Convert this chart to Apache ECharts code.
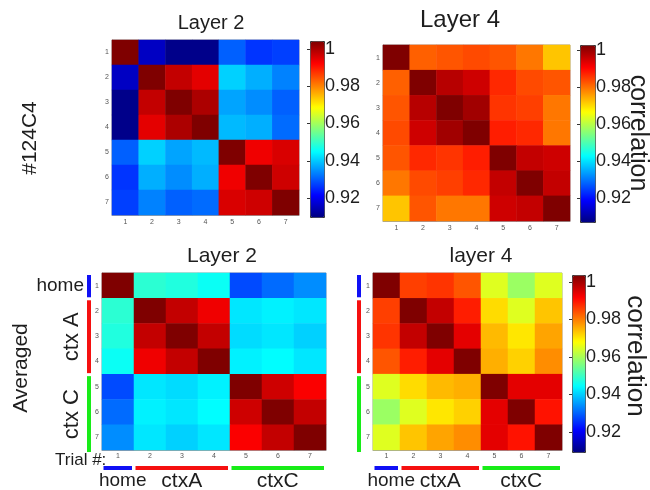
<!DOCTYPE html>
<html><head><meta charset="utf-8">
<script src="https://cdn.jsdelivr.net/npm/echarts@6/dist/echarts.min.js"></script>
<style>html,body{margin:0;padding:0;background:#fff}#c{width:650px;height:490px}</style>
</head><body><div id="c"></div>
<script>
// ---------------- data ----------------
const trials = ['1', '2', '3', '4', '5', '6', '7'];

// #124C4, Layer 2 (rows = trial 1..7 top to bottom)
const layer2Single = [
  [1.000, 0.915, 0.910, 0.910, 0.929, 0.925, 0.926],
  [0.915, 1.000, 0.994, 0.991, 0.939, 0.936, 0.932],
  [0.910, 0.994, 1.000, 0.996, 0.935, 0.933, 0.929],
  [0.910, 0.991, 0.996, 1.000, 0.937, 0.936, 0.930],
  [0.929, 0.939, 0.935, 0.937, 1.000, 0.990, 0.992],
  [0.925, 0.936, 0.933, 0.936, 0.990, 1.000, 0.993],
  [0.926, 0.932, 0.929, 0.930, 0.992, 0.993, 1.000]
];
// #124C4, Layer 4
const layer4Single = [
  [1.000, 0.980, 0.981, 0.982, 0.981, 0.978, 0.971],
  [0.980, 1.000, 0.995, 0.993, 0.985, 0.982, 0.981],
  [0.981, 0.995, 1.000, 0.997, 0.984, 0.983, 0.978],
  [0.982, 0.993, 0.997, 1.000, 0.986, 0.985, 0.978],
  [0.981, 0.985, 0.984, 0.986, 1.000, 0.994, 0.993],
  [0.978, 0.982, 0.983, 0.985, 0.994, 1.000, 0.994],
  [0.971, 0.981, 0.978, 0.978, 0.993, 0.994, 1.000]
];
// Averaged, Layer 2
const layer2Avg = [
  [1.000, 0.947, 0.946, 0.944, 0.927, 0.930, 0.933],
  [0.947, 1.000, 0.994, 0.990, 0.941, 0.942, 0.941],
  [0.946, 0.994, 1.000, 0.994, 0.940, 0.941, 0.939],
  [0.944, 0.990, 0.994, 1.000, 0.942, 0.943, 0.941],
  [0.927, 0.941, 0.940, 0.942, 1.000, 0.993, 0.989],
  [0.930, 0.942, 0.941, 0.943, 0.993, 1.000, 0.994],
  [0.933, 0.941, 0.939, 0.941, 0.989, 0.994, 1.000]
];
// Averaged, layer 4
const layer4Avg = [
  [1.000, 0.983, 0.984, 0.981, 0.963, 0.957, 0.963],
  [0.983, 1.000, 0.994, 0.986, 0.969, 0.963, 0.971],
  [0.984, 0.994, 1.000, 0.991, 0.972, 0.968, 0.974],
  [0.981, 0.986, 0.991, 1.000, 0.973, 0.970, 0.976],
  [0.963, 0.969, 0.972, 0.973, 1.000, 0.991, 0.991],
  [0.957, 0.963, 0.968, 0.970, 0.991, 1.000, 0.987],
  [0.963, 0.971, 0.974, 0.976, 0.991, 0.987, 1.000]
];

const colorbarMin = 0.92, colorbarMax = 1.00, colorbarStep = 0.02;
const colorMin = 0.909, colorMax = 1.0;

const groupNames = ['home', 'ctxA', 'ctxC'];
const groupSideNames = ['home', 'ctx A', 'ctx C'];
const groupStart = [0, 1, 4];
const groupEnd = [1, 4, 7];

// ---------------- style / layout ----------------
const FONT = '"Liberation Sans", Arial, Helvetica, sans-serif';
const TXT = '#1e1e1e';
const groupColors = ['#1010f5', '#f51010', '#18ec18'];
const jet = ['#00007f', '#0000ff', '#007fff', '#00ffff', '#7fff7f', '#ffff00', '#ff7f00', '#ff0000', '#7f0000'];

const panels = [
  { mat: layer2Single, left: 112, top: 40, width: 187, height: 175, ym: 3, xm: 4 },
  { mat: layer4Single, left: 383, top: 45, width: 187, height: 176, ym: 3, xm: 4 },
  { mat: layer2Avg,    left: 102, top: 273, width: 224, height: 177, ym: 3, xm: 3 },
  { mat: layer4Avg,    left: 373, top: 273, width: 189, height: 177, ym: 3, xm: 3 }
];
const colorbars = [
  { left: 310, top: 41, w: 14, h: 176, labTop: 49, labBottom: 198, font: 18, series: [0, 2] },
  { left: 580, top: 45, w: 15, h: 177, labTop: 50, labBottom: 198, font: 18, series: [1] },
  { left: 572, top: 275, w: 13, h: 177, labTop: 282, labBottom: 432, font: 18, series: [3] }
];

const grid = [], xAxis = [], yAxis = [], series = [], visualMap = [];

panels.forEach((p, i) => {
  grid.push({ left: p.left, top: p.top, width: p.width, height: p.height, show: true,
              borderColor: '#a0a0a0', borderWidth: 1, backgroundColor: 'transparent', containLabel: false });
  xAxis.push({ type: 'category', gridIndex: i, data: trials, position: 'bottom',
               axisLine: { show: true, lineStyle: { color: '#a0a0a0' } },
               axisTick: { show: true, inside: true, length: 2, alignWithLabel: true, lineStyle: { color: '#666' } },
               axisLabel: { fontSize: 7, color: '#555', margin: p.xm, fontFamily: FONT },
               splitLine: { show: false } });
  yAxis.push({ type: 'category', gridIndex: i, data: trials, inverse: true,
               axisLine: { show: true, lineStyle: { color: '#a0a0a0' } },
               axisTick: { show: true, inside: true, length: 2, alignWithLabel: true, lineStyle: { color: '#666' } },
               axisLabel: { fontSize: 7, color: '#555', margin: p.ym, fontFamily: FONT },
               splitLine: { show: false } });
  const data = [];
  p.mat.forEach((row, r) => row.forEach((v, c) => data.push([c, r, v])));
  series.push({ type: 'heatmap', xAxisIndex: i, yAxisIndex: i, data: data,
                itemStyle: { borderWidth: 0 }, emphasis: { disabled: true }, silent: true, progressive: 0 });
});

colorbars.forEach((cb, k) => {
  visualMap.push({ type: 'continuous', min: colorMin, max: colorMax, seriesIndex: cb.series,
                   left: cb.left, top: cb.top, itemWidth: cb.w, itemHeight: cb.h, padding: 0,
                   calculable: false, hoverLink: false, inRange: { color: jet },
                   borderColor: '#333', borderWidth: 1, textStyle: { fontSize: 0 } });
  const gi = grid.length;
  grid.push({ left: cb.left, top: cb.labTop, width: cb.w, height: cb.labBottom - cb.labTop, show: false });
  xAxis.push({ type: 'value', gridIndex: gi, show: false, min: 0, max: 1 });
  yAxis.push({ type: 'value', gridIndex: gi, position: 'right', min: colorbarMin, max: colorbarMax,
               interval: colorbarStep,
               axisLine: { show: false },
               axisTick: { show: true, inside: true, length: 3, lineStyle: { color: '#333' } },
               splitLine: { show: false },
               axisLabel: { fontSize: cb.font, color: TXT, margin: 1, fontFamily: FONT,
                            formatter: v => Math.abs(v - 1) < 1e-9 ? '1' : v.toFixed(2) } });
});

// ---------------- annotations ----------------
const graphic = [];
function txt(x, y, s, size, rot, align) {
  graphic.push({ type: 'text', x: x, y: y, rotation: rot || 0, silent: true, z: 10,
                 style: { text: s, fontSize: size, fontFamily: FONT, fill: TXT,
                          textAlign: align || 'center', textVerticalAlign: 'middle', verticalAlign: 'middle' } });
}
function rect(x, y, w, h, color) {
  graphic.push({ type: 'rect', silent: true, z: 10, shape: { x: x, y: y, width: w, height: h }, style: { fill: color } });
}
const R90 = Math.PI / 2;
txt(211, 23, 'Layer 2', 20);
txt(460, 20, 'Layer 4', 24);
txt(222, 256, 'Layer 2', 21);
txt(481, 256, 'layer 4', 21);
txt(30, 138, '#124C4', 21, R90);
txt(21, 368, 'Averaged', 21, R90);
txt(638, 133, 'correlation', 25, -R90);
txt(635, 356, 'correlation', 26, -R90);
txt(55, 460, 'Trial #:', 17, 0, 'left');

// group bars for the two averaged panels
[{ p: panels[2], sideX: 87, side: true, labY: 481 }, { p: panels[3], sideX: 357, side: false, labY: 481 }].forEach(g => {
  const p = g.p, cw = p.width / 7, ch = p.height / 7;
  groupNames.forEach((name, k) => {
    const y0 = p.top + groupStart[k] * ch + 2, y1 = p.top + groupEnd[k] * ch + (k === 2 ? 2 : -1);
    rect(g.sideX, y0, 4, y1 - y0, groupColors[k]);
    const x0 = p.left + groupStart[k] * cw + 1.5, x1 = p.left + groupEnd[k] * cw - 2;
    rect(x0, 466, x1 - x0, 4, groupColors[k]);
    const cx = (x0 + x1) / 2 + (k === 0 ? 5 : 0);
    txt(cx, g.labY, name, k === 0 ? 19 : 21);
    if (g.side) {
      const cy = (y0 + y1) / 2;
      if (k === 0) txt(84, cy, groupSideNames[k], 19, 0, 'right');
      else txt(72, cy, groupSideNames[k], 22, R90);
    }
  });
});

const chart = echarts.init(document.getElementById('c'), null, { renderer: 'canvas' });
chart.setOption({
  animation: false,
  backgroundColor: '#ffffff',
  grid: grid, xAxis: xAxis, yAxis: yAxis, visualMap: visualMap, series: series, graphic: graphic
});
</script></body></html>
